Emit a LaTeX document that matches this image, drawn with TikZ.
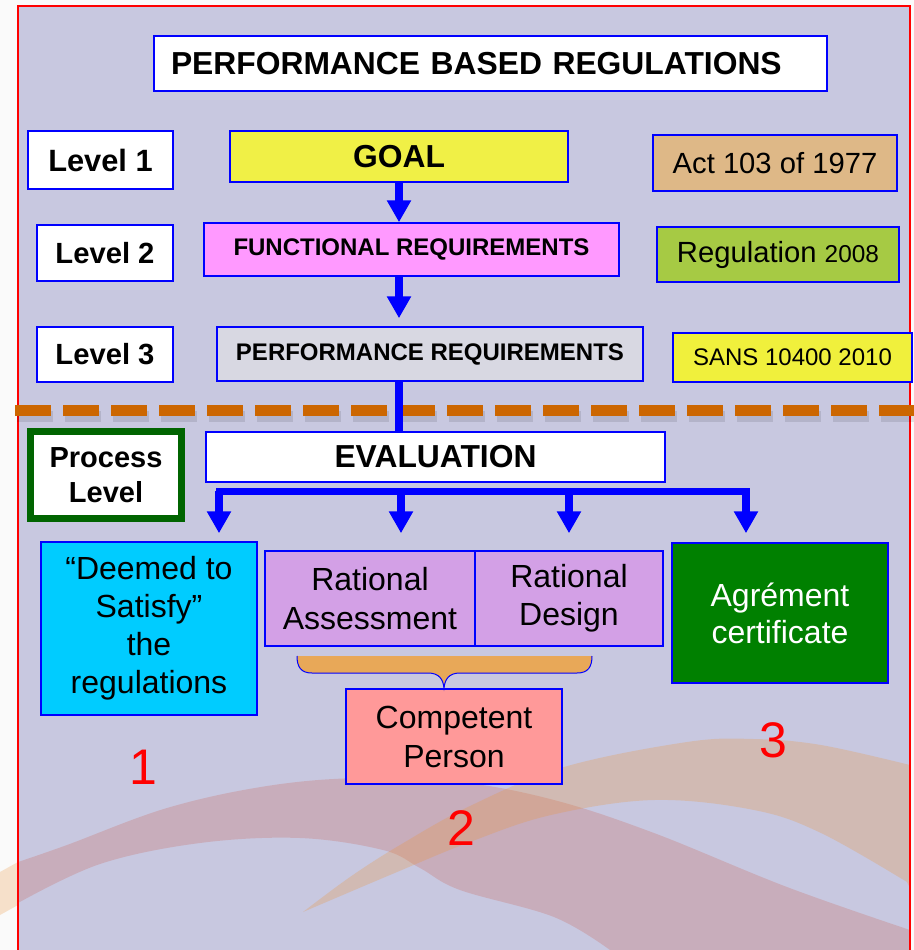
\documentclass[tikz,border=0pt]{standalone}
\usepackage{fontspec}
\setmainfont{Liberation Sans}
\usetikzlibrary{arrows.meta}

\definecolor{bglav}{RGB}{200,200,224}
\definecolor{goalyellow}{RGB}{240,240,70}
\definecolor{funcpink}{RGB}{255,153,255}
\definecolor{perfgray}{RGB}{216,216,226}
\definecolor{acttan}{RGB}{222,184,135}
\definecolor{reggreen}{RGB}{166,202,68}
\definecolor{sansyellow}{RGB}{240,240,60}
\definecolor{deemcyan}{RGB}{0,204,255}
\definecolor{ratpurple}{RGB}{211,160,230}
\definecolor{comppink}{RGB}{255,153,153}
\definecolor{agregreen}{RGB}{0,128,0}
\definecolor{procgreen}{RGB}{0,100,0}
\definecolor{seporange}{RGB}{204,102,0}
\definecolor{bracetan}{RGB}{232,168,88}
\definecolor{redband}{RGB}{200,80,60}
\definecolor{orangeband}{RGB}{235,150,60}

\begin{document}
\begin{tikzpicture}[x=0.5pt, y=-0.5pt,
	every node/.style={draw=blue, line width=0.75pt, align=center, inner sep=0pt},
	box/.style 2 args={minimum width=#1*0.5pt, minimum height=#2*0.5pt},
	lvl/.style={fill=white, line width=1.2pt, font=\bfseries\fontsize{14.6}{17}\selectfont},
	big/.style={font=\fontsize{16}{19.2}\selectfont},
	num/.style={draw=none, text=red, font=\fontsize{25}{30}\selectfont},
	flow/.style={draw=blue, line width=4pt, -{Triangle[width=11.5pt,length=11pt]}},
	bus/.style={draw=blue, line width=3.5pt, line cap=rect},
	sepline/.style={draw=seporange, line width=5.5pt, dash pattern=on 18pt off 6pt}]
			\useasboundingbox (0,0) rectangle (914,950);
			% page and swooshes behind the chart
			\fill[white!96!gray] (0,0) rectangle (914,950);
			\fill[bglav] (18,6) rectangle (910,960);
			\fill[orangeband, opacity=0.25] (0,872) -- (18,862) -- (18,905) -- (0,915) -- cycle;
			\fill[redband, opacity=0.22] plot[smooth, tension=0.6] coordinates {(18,862) (67,845) (167,808) (267,786) (360,778) (460,782) (554,800) (654,833) (787,887) (910,930)} -- (910,950) -- (610,950) -- plot[smooth, tension=0.6] coordinates {(610,950) (554,917) (460,890) (420,868) (383,850) (300,838) (200,843) (100,864) (18,903)} -- cycle;
			\fill[orangeband, opacity=0.27] plot[smooth, tension=0.6] coordinates {(303,912) (350,877) (400,845) (470,806) (564,767) (687,742) (754,739) (821,745) (910,765)} -- (910,888) -- plot[smooth, tension=0.6] coordinates {(907,882) (821,833) (754,810) (654,800) (551,815) (470,842) (390,875) (303,912)} -- cycle;
			\draw[red, line width=1pt] (18,960) -- (18,6) -- (910,6) -- (910,960);
			\draw[sepline, draw=black, opacity=0.1] (17,416) -- (914,416);
			\draw[sepline] (15,410) -- (914,410);
			
			\node[box={673}{55}, fill=white, line width=1pt, text width=319.5pt, align=left, inner xsep=8.5pt, font=\bfseries\fontsize{15.9}{18}\selectfont] (title) at (490.5,63.5) {PERFORMANCE BASED REGULATIONS};
			
			\node[lvl, box={145}{58}, font=\bfseries\fontsize{15.4}{18}\selectfont] (lvlone) at (100.5,160) {Level 1};
			\node[lvl, box={136}{56}] (lvltwo) at (105,253) {Level 2};
			\node[lvl, box={136}{55}] (lvlthree) at (105,354.5) {Level 3};
			
			\node[box={338}{51}, fill=goalyellow, font=\bfseries\fontsize{15.9}{18}\selectfont] (goal) at (399,156.5) {GOAL};
			\node[box={415}{53}, fill=funcpink, font=\bfseries\fontsize{12}{14}\selectfont] (func) at (411.5,249.5) {FUNCTIONAL REQUIREMENTS};
			\node[box={426}{54}, fill=perfgray, font=\bfseries\fontsize{12}{14}\selectfont] (perf) at (430,354) {PERFORMANCE REQUIREMENTS};
			
			\node[box={244}{56}, fill=acttan, font=\fontsize{14.6}{17}\selectfont] (act) at (775,163) {Act 103 of 1977};
			\node[box={242}{55}, fill=reggreen, font=\fontsize{14.6}{17}\selectfont] (reg) at (778,254.5) {Regulation {\fontsize{12.2}{14}\selectfont 2008}};
			\node[box={239}{49}, fill=sansyellow, font=\fontsize{12}{14}\selectfont] (sans) at (792.5,357.5) {SANS 10400 2010};
			
			\node[box={151}{87}, fill=white, draw=procgreen, line width=3.5pt, font=\bfseries\fontsize{14.5}{17.5}\selectfont] (proc) at (106,475) {Process\\Level};
			\node[box={459}{50}, fill=white, font=\bfseries\fontsize{15.9}{18}\selectfont] (eval) at (435.5,457) {EVALUATION};
			
			\node[big, box={216}{173}, fill=deemcyan, font=\fontsize{16}{19}\selectfont] (deemed) at (149,628.5) {“Deemed to\\Satisfy”\\the\\regulations};
			\node[big, box={210}{95}, fill=ratpurple] (ratass) at (370,598.5) {Rational\\Assessment};
			\node[big, box={188}{95}, fill=ratpurple] (ratdes) at (569,598.5) {Rational\\Design};
			\node[big, box={216}{95}, fill=comppink, font=\fontsize{16}{19.5}\selectfont] (comp) at (454,736.5) {Competent\\Person};
			\node[big, box={216}{140}, fill=agregreen, text=white, font=\fontsize{16}{18.5}\selectfont] (agre) at (780,613) {Agrément\\certificate};
			
			\node[num] (numone) at (143,767) {1};
			\node[num] (numtwo) at (461,828) {2};
			\node[num] (numthree) at (773,740) {3};
			
			% brace under the two rational boxes
			\fill[bracetan] (297,656) -- (592,656) .. controls (592,667) and (588,673) .. (577,673) -- (460,673) .. controls (449,673) and (445,679) .. (444,688) .. controls (443,679) and (439,673) .. (428,673) -- (312,673) .. controls (301,673) and (297,667) .. (297,656) -- cycle;
			\draw[blue, line width=0.5pt] (592,656) .. controls (592,667) and (588,673) .. (577,673) -- (460,673) .. controls (449,673) and (445,679) .. (444,688) .. controls (443,679) and (439,673) .. (428,673) -- (312,673) .. controls (301,673) and (297,667) .. (297,656);
			
			\draw[flow] (goal.south) -- (goal.south |- func.north);
			\draw[flow, shorten >=4pt] (func.south -| goal) -- (perf.north -| goal);
			\draw[draw=blue, line width=4pt] (perf.south -| goal) -- (eval.north -| goal);
			
			\coordinate (bone) at (219,491);
			\coordinate (btwo) at (401,491);
			\coordinate (bthree) at (569,491);
			\coordinate (bfour) at (746,491);
			\draw[bus] (bone) -- (bfour);
			\draw[flow, shorten >=4pt] (bone) -- (bone |- deemed.north);
			\draw[flow, shorten >=8.5pt] (btwo) -- (btwo |- ratass.north);
			\draw[flow, shorten >=8.5pt] (bthree) -- (bthree |- ratdes.north);
			\draw[flow, shorten >=4.5pt] (bfour) -- (bfour |- agre.north);
			\end{tikzpicture}
\end{document}
